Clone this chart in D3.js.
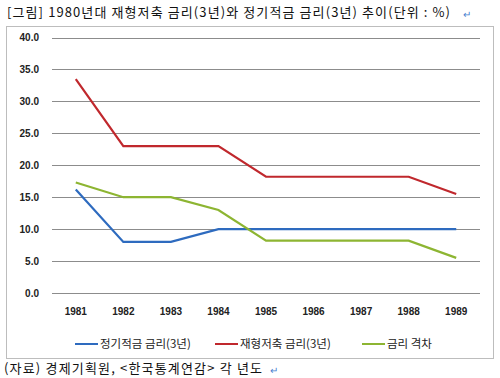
<!DOCTYPE html>
<meta charset="utf-8">
<body style="margin:0;background:#fff">
<style>
  body { font-family: "Noto Sans CJK KR", sans-serif; }
  .tick text { font-family: Arial, "Liberation Sans", sans-serif; font-weight: bold; font-size: 10px; fill: #222; }
  .grid line { stroke: #8c8c8c; stroke-width: 1px; }
  .cap { font-size: 13px; fill: #111; }
  .leg { font-size: 11.5px; fill: #222; }
</style>
<svg width="500" height="378"></svg>
<script src="https://d3js.org/d3.v7.min.js"></script>
<script>

var years = ["1981","1982","1983","1984","1985","1986","1987","1988","1989"];
var savings = [16.2, 8.0, 8.0, 10.0, 10.0, 10.0, 10.0, 10.0, 10.0];   // 정기적금 금리(3년)
var wealth  = [33.5, 23.0, 23.0, 23.0, 18.2, 18.2, 18.2, 18.2, 15.5]; // 재형저축 금리(3년)
var gap     = [17.3, 15.0, 15.0, 13.0, 8.2, 8.2, 8.2, 8.2, 5.5];      // 금리 격차
var yTicks  = [0, 5, 10, 15, 20, 25, 30, 35, 40];

var series = [
  {name: "정기적금 금리(3년)", values: savings, color: "#2e6bbf"},
  {name: "재형저축 금리(3년)", values: wealth,  color: "#c0282d"},
  {name: "금리 격차",          values: gap,     color: "#8db532"}
];

var svg = d3.select("svg");

// caption
svg.append("text").attr("class", "cap").attr("x", 7).attr("y", 17)
   .attr("textLength", 443).attr("lengthAdjust", "spacing")
   .text("[그림] 1980년대 재형저축 금리(3년)와 정기적금 금리(3년) 추이(단위 : %)");
svg.append("text").attr("x", 463).attr("y", 18).attr("fill", "#4a7fd0")
   .style("font-size", "10px").text("↵");

// chart frame
svg.append("rect").attr("x", 6.5).attr("y", 26.5).attr("width", 487).attr("height", 332)
   .attr("fill", "#fff").attr("stroke", "#bdbdbd").attr("stroke-width", 1);

var x = d3.scaleBand().domain(years).range([52, 480]);
var y = d3.scaleLinear().domain([0, 40]).range([293, 37.5]);

var grid = svg.append("g").attr("class", "grid");
grid.selectAll("line").data(yTicks).enter().append("line")
    .attr("x1", 52).attr("x2", 480)
    .attr("y1", function(d) { return Math.round(y(d)) + 0.5; })
    .attr("y2", function(d) { return Math.round(y(d)) + 0.5; });

svg.append("g").attr("transform", "translate(52,0)")
   .call(d3.axisLeft(y).tickValues(yTicks).tickFormat(d3.format(".1f")).tickSize(0).tickPadding(13))
   .call(function(g) { g.select(".domain").remove(); });

svg.append("g").attr("transform", "translate(0,293)")
   .call(d3.axisBottom(x).tickSize(0).tickPadding(15))
   .call(function(g) { g.select(".domain").remove(); });

var line = d3.line()
    .x(function(d, i) { return x(years[i]) + x.bandwidth() / 2; })
    .y(function(d) { return y(d); });

svg.selectAll(".series").data(series).enter().append("path")
   .attr("class", "series")
   .attr("d", function(d) { return line(d.values); })
   .attr("fill", "none")
   .attr("stroke", function(d) { return d.color; })
   .attr("stroke-width", 2.2)
   .attr("stroke-linejoin", "miter");

// legend
var legX = [75, 215, 362];
var leg = svg.selectAll(".legitem").data(series).enter().append("g")
   .attr("transform", function(d, i) { return "translate(" + legX[i] + ",344)"; });
leg.append("line").attr("x1", 0).attr("x2", 23).attr("y1", 0).attr("y2", 0)
   .attr("stroke", function(d) { return d.color; }).attr("stroke-width", 2);
leg.append("text").attr("class", "leg").attr("x", 25).attr("y", 4)
   .text(function(d) { return d.name; });

// source
svg.append("text").attr("class", "cap").attr("x", 4).attr("y", 373)
   .attr("textLength", 258).attr("lengthAdjust", "spacing")
   .text("(자료) 경제기획원, <한국통계연감> 각 년도");
svg.append("text").attr("x", 270).attr("y", 374).attr("fill", "#4a7fd0")
   .style("font-size", "10px").text("↵");

</script>
</body>
